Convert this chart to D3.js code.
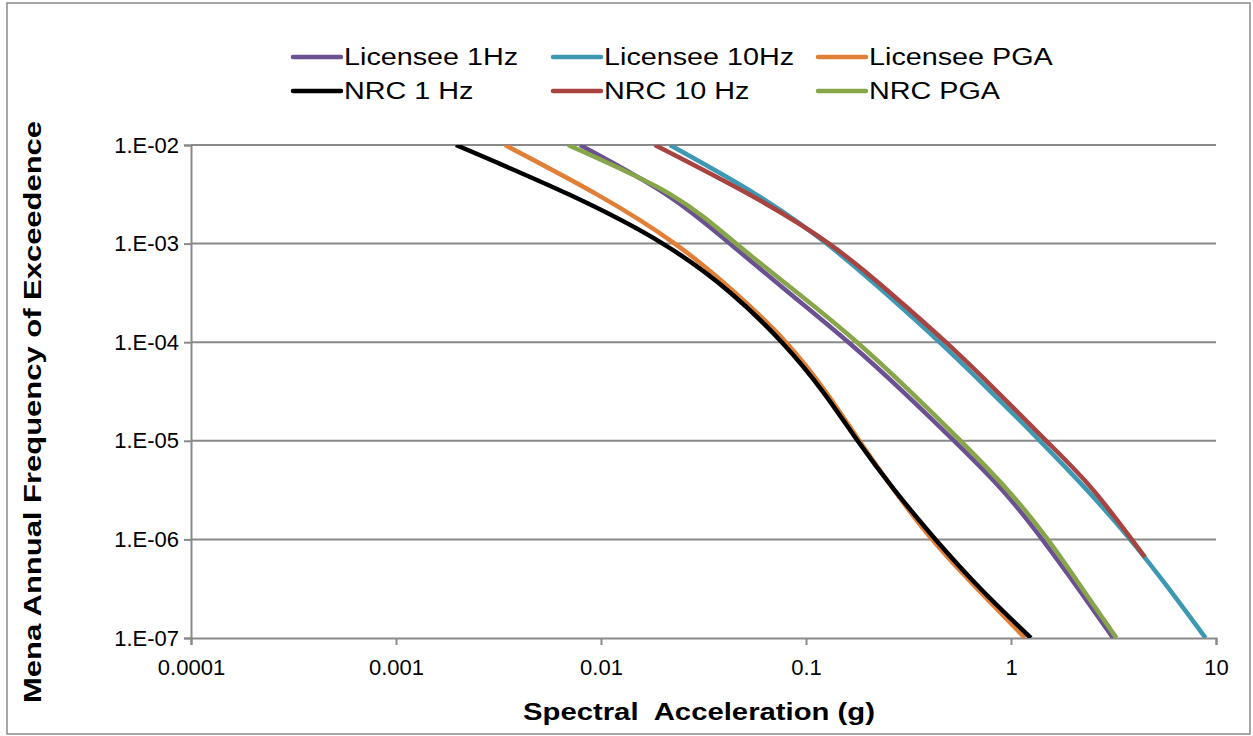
<!DOCTYPE html>
<html>
<head>
<meta charset="utf-8">
<script src="https://cdn.jsdelivr.net/npm/d3@7"></script>
<style>
  body { margin: 0; background: #fff; }
  text { font-family: "Liberation Sans", Arial, sans-serif; fill: #000; }
</style>
</head>
<body>
<div id="chart"></div>
<script>
// frequency levels (shared by most series)
const freqLevels = [1e-2, 3.16e-3, 1e-3, 3.16e-4, 1e-4, 3.16e-5, 1e-5, 3.16e-6, 1e-6, 3.16e-7, 1e-7];

// spectral acceleration (g) at each frequency level
const licensee1Hz  = [0.0079, 0.0208, 0.0425, 0.0828, 0.161, 0.297, 0.528, 0.908, 1.42, 2.13, 3.15];
const licensee10Hz = [0.0217, 0.0570, 0.126, 0.243, 0.448, 0.796, 1.384, 2.35, 3.81, 5.89, 8.89];
const licenseePGA  = [0.0034, 0.00955, 0.0229, 0.0452, 0.0798, 0.1245, 0.182, 0.269, 0.412, 0.684, 1.17];
const nrc1Hz       = [0.00196, 0.00695, 0.0200, 0.0429, 0.0762, 0.1208, 0.1786, 0.2704, 0.4285, 0.711, 1.25];
const nrc10Hz      = [0.0183, 0.0527, 0.1294, 0.258, 0.481, 0.855, 1.486, 2.52, 4.5];
const nrc10HzFreq  = [1e-2, 3.16e-3, 1e-3, 3.16e-4, 1e-4, 3.16e-5, 1e-5, 3.16e-6, 6.6e-7];
const nrcPGA       = [0.0069, 0.0218, 0.0456, 0.0910, 0.1774, 0.323, 0.568, 0.964, 1.51, 2.23, 3.27];

const seriesNames  = ["Licensee 1Hz", "Licensee 10Hz", "Licensee PGA", "NRC 1 Hz", "NRC 10 Hz", "NRC PGA"];
const seriesColors = ["#6b5191", "#3d98b3", "#e07f36", "#000000", "#a8433f", "#87a64a"];

const xTicks = [0.0001, 0.001, 0.01, 0.1, 1, 10];
const yTicks = [1e-2, 1e-3, 1e-4, 1e-5, 1e-6, 1e-7];
const yTickLabels = ["1.E-02", "1.E-03", "1.E-04", "1.E-05", "1.E-06", "1.E-07"];

const series = [
  { name: seriesNames[0], x: licensee1Hz,  y: freqLevels },
  { name: seriesNames[1], x: licensee10Hz, y: freqLevels },
  { name: seriesNames[2], x: licenseePGA,  y: freqLevels },
  { name: seriesNames[3], x: nrc1Hz,       y: freqLevels },
  { name: seriesNames[4], x: nrc10Hz,      y: nrc10HzFreq },
  { name: seriesNames[5], x: nrcPGA,       y: freqLevels }
];

const W = 1253, H = 736;
const margin = { top: 145, right: 37, bottom: 98, left: 191 };
const width = W - margin.left - margin.right;
const height = H - margin.top - margin.bottom;

// widen a text element along its own direction
function widen(sel, k) {
  sel.each(function() {
    const len = this.getComputedTextLength();
    d3.select(this)
      .attr("textLength", len * k)
      .attr("lengthAdjust", "spacingAndGlyphs");
  });
}

const svg = d3.select("#chart").append("svg")
  .attr("width", W)
  .attr("height", H);

// outer frame
svg.append("rect")
  .attr("x", 7).attr("y", 3)
  .attr("width", 1243).attr("height", 731)
  .attr("fill", "none")
  .attr("stroke", "#898989")
  .attr("stroke-width", 1.5);

const g = svg.append("g")
  .attr("transform", `translate(${margin.left},${margin.top})`);

const xScale = d3.scaleLog().domain([0.0001, 10]).range([0, width]);
const yScale = d3.scaleLog().domain([1e-7, 1e-2]).range([height, 0]);

// horizontal gridlines
g.append("g")
  .selectAll("line")
  .data(yTicks.slice(0, -1))
  .enter()
  .append("line")
    .attr("x1", 0).attr("x2", width)
    .attr("y1", d => yScale(d)).attr("y2", d => yScale(d))
    .attr("stroke", "#898989")
    .attr("stroke-width", 2);

// x axis
const xAxis = g.append("g")
  .attr("transform", `translate(0,${height})`)
  .call(d3.axisBottom(xScale).tickValues(xTicks).tickFormat(d => String(d)).tickSize(7).tickPadding(14));

// y axis
const yAxis = g.append("g")
  .call(d3.axisLeft(yScale).tickValues(yTicks).tickFormat((d, i) => yTickLabels[i]).tickSize(7).tickPadding(5));

[xAxis, yAxis].forEach(a => {
  a.select(".domain").attr("stroke", "#898989").attr("stroke-width", 2);
  a.selectAll(".tick line").attr("stroke", "#898989").attr("stroke-width", 2);
  a.selectAll(".tick text").style("font-size", "22px").attr("fill", "#000");
});

// clip to plot area
svg.append("clipPath").attr("id", "plot-clip")
  .append("rect").attr("width", width).attr("height", height);

const line = d3.line()
  .x(d => xScale(d[0]))
  .y(d => yScale(d[1]))
  .curve(d3.curveNatural);

g.append("g")
  .attr("clip-path", "url(#plot-clip)")
  .selectAll("path")
  .data(series)
  .enter()
  .append("path")
    .attr("d", s => line(s.x.map((v, i) => [v, s.y[i]])))
    .attr("fill", "none")
    .attr("stroke", (s, i) => seriesColors[i])
    .attr("stroke-width", 4.5)
    .attr("stroke-linecap", "butt")
    .attr("stroke-linejoin", "round");

// axis titles
svg.append("text")
  .attr("x", 699)
  .attr("y", 720)
  .attr("text-anchor", "middle")
  .style("font-size", "24px")
  .style("font-weight", "bold")
  .style("white-space", "pre")
  .text("Spectral  Acceleration (g)")
  .call(widen, 1.22);

svg.append("text")
  .attr("transform", "translate(41,412) rotate(-90)")
  .attr("text-anchor", "middle")
  .style("font-size", "24px")
  .style("font-weight", "bold")
  .text("Mena Annual Frequency of Exceedence")
  .call(widen, 1.29);

// legend
const legendX = [293, 553, 818];
const legendY = [57, 91];
const legend = svg.append("g");
seriesNames.forEach((name, i) => {
  const lx = legendX[i % 3], ly = legendY[Math.floor(i / 3)];
  legend.append("line")
    .attr("x1", lx).attr("x2", lx + 48)
    .attr("y1", ly).attr("y2", ly)
    .attr("stroke", seriesColors[i])
    .attr("stroke-width", 4.5)
    .attr("stroke-linecap", "round");
  legend.append("text")
    .attr("x", lx + 51)
    .attr("y", ly)
    .attr("dy", "0.36em")
    .style("font-size", "23px")
    .text(name)
    .call(widen, 1.25);
});
</script>
</body>
</html>
